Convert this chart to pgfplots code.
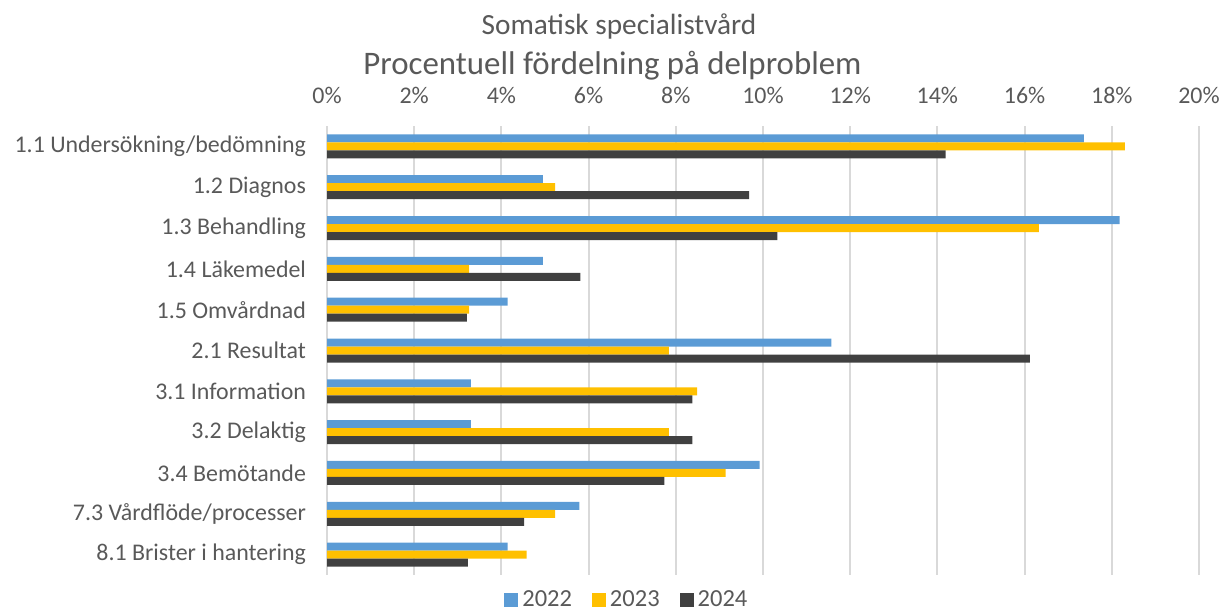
\documentclass[border=0pt]{standalone}
\usepackage{fontspec}
\setmainfont{Carlito}
\usepackage{pgfplots}
\pgfplotsset{compat=1.18}
\definecolor{c22}{HTML}{5B9BD5}
\definecolor{c23}{HTML}{FFC000}
\definecolor{c24}{HTML}{404040}
\definecolor{txt}{HTML}{595959}
\definecolor{grd}{HTML}{D9D9D9}
\begin{document}
\begin{tikzpicture}
\path[use as bounding box] (0,0) rectangle (611bp,306bp);
\begin{axis}[
  at={(163.5bp,18.5bp)}, anchor=south west,
  scale only axis, width=436bp, height=224.5bp,
  xbar=0pt, bar width=4bp,
  y dir=reverse,
  xmin=0, xmax=20, ymin=-0.5, ymax=10.5,
  xtick={0,2,...,20},
  xticklabel={\pgfmathprintnumber{\tick}\%},
  xticklabel pos=upper,
  xticklabel style={yshift=7.5bp, font=\fontsize{12}{14}\selectfont, text=txt},
  /pgf/number format/assume math mode=true,
  ytick={0,...,10},
  yticklabels={1.1 Undersökning/bedömning,1.2 Diagnos,1.3 Behandling,1.4 Läkemedel,1.5 Omvårdnad,2.1 Resultat,3.1 Information,3.2 Delaktig,3.4 Bemötande,7.3 Vårdflöde/processer,8.1 Brister i hantering},
  yticklabel style={xshift=-7bp, font=\fontsize{12}{14}\selectfont, text=txt},
  major tick length=0pt,
  axis line style={draw=none},
  xmajorgrids, grid style={grd, line width=1bp},
  legend columns=3,
  legend style={at={(0.345,-0.056)}, anchor=center, draw=none, fill=none,
    font=\fontsize{12.3}{14}\selectfont, text=txt,
    /tikz/every even column/.append style={column sep=8bp}},
  legend image code/.code={\fill[#1] (0bp,-3.5bp) rectangle (7bp,3.5bp);},
]
\addplot[fill=c22, draw=none, bar shift=4bp] coordinates {(17.36,0) (4.95,1) (18.18,2) (4.95,3) (4.14,4) (11.57,5) (3.30,6) (3.30,7) (9.92,8) (5.79,9) (4.14,10)};
\addplot[fill=c23, draw=none, bar shift=0bp] coordinates {(18.30,0) (5.23,1) (16.33,2) (3.26,3) (3.26,4) (7.84,5) (8.49,6) (7.84,7) (9.14,8) (5.23,9) (4.58,10)};
\addplot[fill=c24, draw=none, bar shift=-4bp] coordinates {(14.19,0) (9.68,1) (10.33,2) (5.81,3) (3.21,4) (16.12,5) (8.38,6) (8.38,7) (7.74,8) (4.52,9) (3.23,10)};
\legend{2022,2023,2024}
\end{axis}
\node[text=txt, font=\fontsize{14.7}{17}\selectfont, anchor=base] at (309.5bp,288.5bp) {Somatisk specialistvård};
\node[text=txt, font=\fontsize{16.5}{19}\selectfont, anchor=base] at (306.25bp,268.5bp) {Procentuell fördelning på delproblem};
\end{tikzpicture}
\end{document}
